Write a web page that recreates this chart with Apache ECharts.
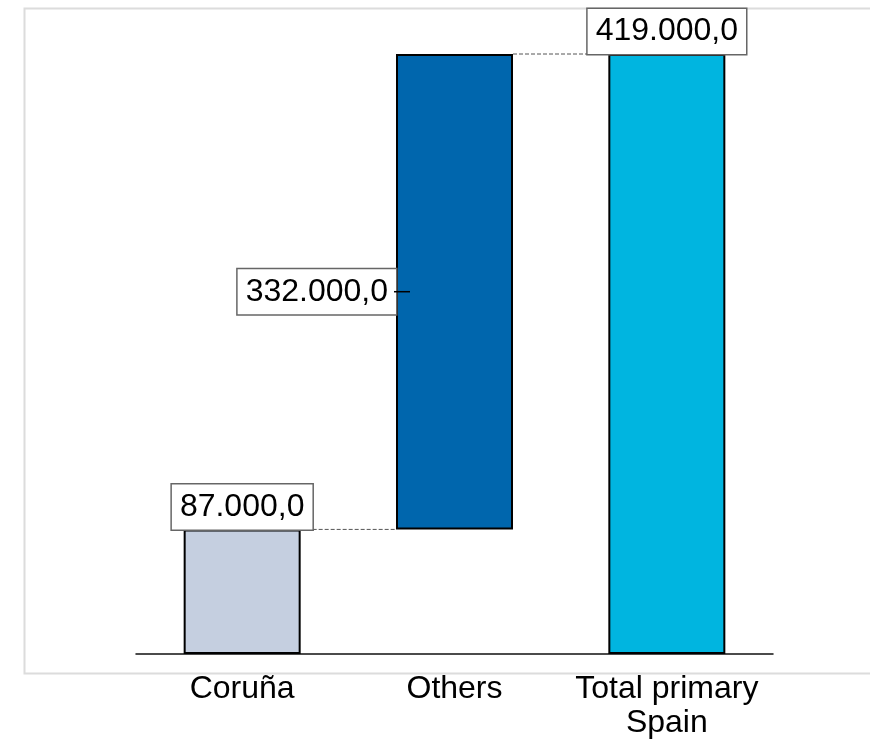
<!DOCTYPE html>
<html>
<head>
<meta charset="utf-8">
<script src="https://cdn.jsdelivr.net/npm/echarts@6/dist/echarts.min.js"></script>
<style>
  html, body { margin: 0; padding: 0; background: #fff; }
  #chart { width: 870px; height: 741px; }
</style>
</head>
<body>
<div id="chart"></div>
<script>
// waterfall data
const categories = ['Coruña', 'Others', 'Total primary\nSpain'];
const baseValues = [0, 87000, 0];
const stepValues = [87000, 332000, 419000];
const barColors = ['#c5cfe0', '#0066ad', '#00b5e0'];
const labelPositions = ['top', 'left', 'top'];
// connector from category i (right edge) to i+1 (left edge) at level
const connectorFrom = [0, 1];
const connectorLevel = [87000, 419000];

const BAR_W = 117;
const FONT = '"Liberation Sans", Arial, sans-serif';

function fmt(v) {
    const s = Math.round(v).toString().replace(/\B(?=(\d{3})+(?!\d))/g, '.');
    return s + ',0';
}

const chart = echarts.init(document.getElementById('chart'));

const option = {
    animation: false,
    backgroundColor: '#fff',
    graphic: [{
        type: 'rect',
        left: 22, top: 6,
        shape: { width: 900, height: 665 },
        style: { fill: 'none', stroke: '#dcdcdc', lineWidth: 2 },
        z: -10
    }],
    grid: { left: 136, right: 97, top: 54, bottom: 87 },
    xAxis: {
        type: 'category',
        data: categories,
        axisLine: { lineStyle: { color: '#111', width: 1.5 } },
        axisTick: { show: false },
        axisLabel: {
            color: '#000', fontFamily: FONT, fontSize: 32,
            lineHeight: 34, margin: 18, interval: 0
        }
    },
    yAxis: {
        type: 'value', min: 0, max: 419000, show: false,
        splitLine: { show: false }
    },
    series: [
        {
            name: 'base',
            type: 'bar',
            stack: 'wf',
            barWidth: BAR_W,
            itemStyle: { color: 'transparent' },
            data: baseValues,
            silent: true
        },
        {
            name: 'value',
            type: 'bar',
            stack: 'wf',
            barWidth: BAR_W,
            data: stepValues.map((v, i) => ({
                value: v,
                itemStyle: { color: barColors[i], borderColor: '#000', borderWidth: 2 },
                label: { position: labelPositions[i] }
            })),
            label: {
                show: true,
                distance: 0,
                formatter: p => fmt(p.value),
                color: '#000',
                fontFamily: FONT,
                fontSize: 32,
                lineHeight: 31,
                backgroundColor: '#fff',
                borderColor: '#666',
                borderWidth: 1.5,
                padding: [7, 8]
            }
        },
        {
            // dashed connectors between bars
            type: 'custom',
            data: connectorFrom.map((c, i) => [c, connectorLevel[i]]),
            renderItem: (params, api) => {
                const c = api.value(0);
                const p1 = api.coord([c, api.value(1)]);
                const p2 = api.coord([c + 1, api.value(1)]);
                return {
                    type: 'line',
                    shape: { x1: p1[0] + BAR_W / 2, y1: p1[1], x2: p2[0] - BAR_W / 2, y2: p2[1] },
                    style: { stroke: '#555', lineWidth: 1, lineDash: [4, 2] }
                };
            },
            z: 1
        },
        {
            // small leader tick for side label
            type: 'custom',
            data: [[1, baseValues[1] + stepValues[1] / 2]],
            renderItem: (params, api) => {
                const p = api.coord([api.value(0), api.value(1)]);
                const x0 = p[0] - BAR_W / 2;
                return {
                    type: 'line',
                    shape: { x1: x0 - 2, y1: p[1], x2: x0 + 14, y2: p[1] },
                    style: { stroke: '#000', lineWidth: 1.5 }
                };
            },
            z: 5
        }
    ]
};

chart.setOption(option);
</script>
</body>
</html>
